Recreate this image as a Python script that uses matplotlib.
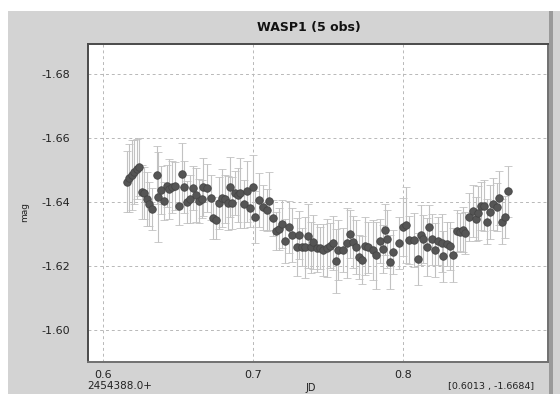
import matplotlib
matplotlib.use("Agg")
import matplotlib.pyplot as plt
from matplotlib.patches import Rectangle

# Data (JD offset from 2454388.0, magnitude, error)
jd = [0.6160, 0.6173, 0.6193, 0.6207, 0.6227, 0.6240, 0.6260, 0.6273, 0.6293, 0.6307,
      0.6327, 0.6360, 0.6367, 0.6387, 0.6407, 0.6427, 0.6440, 0.6460, 0.6480, 0.6507,
      0.6527, 0.6540, 0.6560, 0.6580, 0.6600, 0.6620, 0.6640, 0.6660, 0.6667, 0.6693,
      0.6720, 0.6733, 0.6753, 0.6773, 0.6793, 0.6813, 0.6833, 0.6847, 0.6860, 0.6880,
      0.6900, 0.6913, 0.6940, 0.6960, 0.6980, 0.7000, 0.7013, 0.7040, 0.7067, 0.7093,
      0.7107, 0.7133, 0.7153, 0.7173, 0.7193, 0.7213, 0.7240, 0.7260, 0.7293, 0.7307,
      0.7327, 0.7347, 0.7367, 0.7387, 0.7400, 0.7427, 0.7447, 0.7467, 0.7493, 0.7513,
      0.7533, 0.7553, 0.7567, 0.7600, 0.7627, 0.7647, 0.7667, 0.7687, 0.7707, 0.7727,
      0.7747, 0.7767, 0.7800, 0.7820, 0.7847, 0.7867, 0.7880, 0.7893, 0.7913, 0.7933,
      0.7973, 0.8000, 0.8020, 0.8040, 0.8073, 0.8100, 0.8120, 0.8133, 0.8160, 0.8173,
      0.8193, 0.8213, 0.8233, 0.8260, 0.8267, 0.8293, 0.8313, 0.8333, 0.8360, 0.8380,
      0.8400, 0.8413, 0.8440, 0.8467, 0.8487, 0.8500, 0.8520, 0.8540, 0.8560, 0.8580,
      0.8600, 0.8627, 0.8640, 0.8660, 0.8680, 0.8700]

mag = [-1.6463, -1.6475, -1.6484, -1.6494, -1.6503, -1.6509, -1.6431, -1.6428, -1.6409, -1.6394,
       -1.6378, -1.6484, -1.6416, -1.6438, -1.6403, -1.6450, -1.6441, -1.6447, -1.6450, -1.6388,
       -1.6488, -1.6447, -1.6400, -1.6409, -1.6444, -1.6422, -1.6403, -1.6409, -1.6447, -1.6444,
       -1.6413, -1.6350, -1.6344, -1.6397, -1.6413, -1.6409, -1.6397, -1.6447, -1.6397, -1.6428,
       -1.6422, -1.6428, -1.6394, -1.6434, -1.6381, -1.6447, -1.6353, -1.6406, -1.6384, -1.6375,
       -1.6403, -1.6350, -1.6309, -1.6316, -1.6331, -1.6278, -1.6322, -1.6297, -1.6259, -1.6297,
       -1.6259, -1.6259, -1.6294, -1.6259, -1.6275, -1.6256, -1.6256, -1.6250, -1.6256, -1.6263,
       -1.6272, -1.6216, -1.6250, -1.6250, -1.6272, -1.6300, -1.6275, -1.6259, -1.6228, -1.6219,
       -1.6263, -1.6259, -1.6250, -1.6234, -1.6278, -1.6253, -1.6313, -1.6284, -1.6213, -1.6244,
       -1.6272, -1.6322, -1.6328, -1.6281, -1.6281, -1.6222, -1.6297, -1.6284, -1.6259, -1.6322,
       -1.6284, -1.6250, -1.6278, -1.6272, -1.6231, -1.6269, -1.6263, -1.6234, -1.6309, -1.6306,
       -1.6313, -1.6303, -1.6353, -1.6372, -1.6347, -1.6366, -1.6388, -1.6388, -1.6338, -1.6369,
       -1.6394, -1.6384, -1.6413, -1.6338, -1.6353, -1.6434]

err = [0.0095, 0.0105, 0.0110, 0.0100, 0.0095, 0.0090, 0.0085, 0.0080, 0.0085, 0.0070, 0.0065,
       0.0090, 0.0140, 0.0075, 0.0060, 0.0065, 0.0095, 0.0080, 0.0075, 0.0060,
       0.0095, 0.0080, 0.0065, 0.0075, 0.0070, 0.0085, 0.0070, 0.0060, 0.0090, 0.0075,
       0.0070, 0.0065, 0.0060, 0.0080, 0.0090, 0.0075, 0.0085, 0.0095, 0.0080, 0.0070,
       0.0085, 0.0110, 0.0075, 0.0095, 0.0060, 0.0100, 0.0080, 0.0085, 0.0070, 0.0065,
       0.0090, 0.0055, 0.0060, 0.0065, 0.0075, 0.0070, 0.0080, 0.0085, 0.0090, 0.0075,
       0.0060, 0.0095, 0.0100, 0.0080, 0.0085, 0.0075, 0.0065, 0.0080, 0.0090, 0.0070,
       0.0085, 0.0100, 0.0095, 0.0070, 0.0110, 0.0075, 0.0080, 0.0085, 0.0070, 0.0075,
       0.0090, 0.0080, 0.0095, 0.0105, 0.0070, 0.0075, 0.0080, 0.0090, 0.0085, 0.0070,
       0.0080, 0.0090, 0.0120, 0.0075, 0.0085, 0.0080, 0.0095, 0.0075, 0.0090, 0.0070,
       0.0080, 0.0085, 0.0075, 0.0090, 0.0080, 0.0070, 0.0075, 0.0085, 0.0065, 0.0060,
       0.0070, 0.0065, 0.0075, 0.0080, 0.0070, 0.0085, 0.0075, 0.0080, 0.0070, 0.0085,
       0.0080, 0.0075, 0.0085, 0.0070, 0.0065, 0.0080]

x_ticks = [0.6, 0.7, 0.8]
x_tick_labels = ["0.6", "0.7", "0.8"]
y_ticks = [-1.68, -1.66, -1.64, -1.62, -1.60]
y_tick_labels = ["-1.68", "-1.66", "-1.64", "-1.62", "-1.60"]

title = "WASP1 (5 obs)"
x_label = "JD"
y_label = "mag"
x_offset_label = "2454388.0+"
cursor_label = "[0.6013 , -1.6684]"

W, H = 560, 394
fig = plt.figure(figsize=(W / 100, H / 100), dpi=100)
fig.patch.set_facecolor("white")

bg = "#d3d3d3"
fig.patches.append(Rectangle((8 / W, 0), 1 - 8 / W, 1 - 11 / H, transform=fig.transFigure,
                             facecolor=bg, edgecolor="none", zorder=-10))
fig.patches.append(Rectangle((549 / W, 0), 4 / W, 1 - 11 / H, transform=fig.transFigure,
                             facecolor="#9a9a9a", edgecolor="none", zorder=-9))

ax = fig.add_axes([88 / W, (H - 362) / H, (548 - 88) / W, (362 - 44) / H])
ax.set_facecolor("white")

ax.errorbar(jd, mag, yerr=err, fmt="o", color="#555555", markersize=5.4,
            markeredgecolor="#454545", markeredgewidth=0.6,
            ecolor="#c2c2c2", elinewidth=0.8, capsize=3, capthick=0.8, zorder=3)

ax.set_xlim(0.59, 0.8967)
ax.set_ylim(-1.5900, -1.6894)

ax.set_xticks(x_ticks)
ax.set_xticklabels(x_tick_labels)
ax.set_yticks(y_ticks)
ax.set_yticklabels(y_tick_labels)
ax.tick_params(axis="both", length=0, labelsize=8, colors="#222222")
ax.tick_params(axis="y", pad=13)
ax.tick_params(axis="x", pad=6)

ax.grid(True, color="#b8b8b8", linestyle=(0, (3, 3)), linewidth=0.7)
ax.set_axisbelow(True)

for side in ["left", "top"]:
    ax.spines[side].set_color("#4a4a4a")
    ax.spines[side].set_linewidth(1.4)
for side in ["right", "bottom"]:
    ax.spines[side].set_color("#707070")
    ax.spines[side].set_linewidth(1.4)

fig.text(309 / W, 1 - 27 / H, title, ha="center", va="center", fontsize=9,
         fontweight="bold", color="#111111")
fig.text(25 / W, 1 - 212 / H, y_label, ha="center", va="center", rotation=90,
         fontsize=6.5, color="#222222")
fig.text(87 / W, 1 - 386 / H, x_offset_label, ha="left", va="center", fontsize=7.5,
         color="#222222")
fig.text(311 / W, 1 - 388 / H, x_label, ha="center", va="center", fontsize=7,
         color="#222222")
fig.text(448 / W, 1 - 387 / H, cursor_label, ha="left", va="center", fontsize=6.8,
         color="#222222")

fig.savefig("out.png", dpi=100, facecolor=fig.get_facecolor())
